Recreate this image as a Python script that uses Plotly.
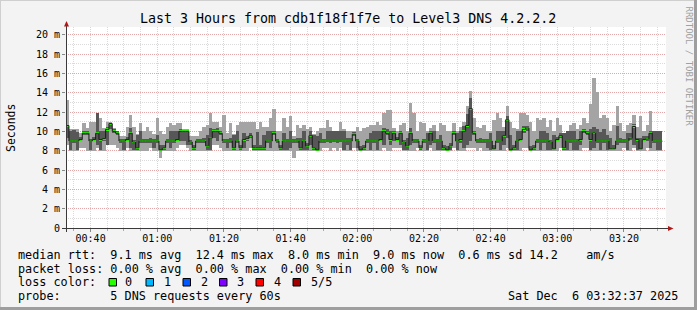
import plotly.graph_objects as go
import pandas as pd

# ---------------- data (ms), one value per 1-minute step ----------------
median_ms = [
    10.6, 9.0, 9.0, 9.0, 9.15, 9.8, 9.8, 9.0, 9.15, 9.8,
    9.15, 9.25, 10.2, 10.8, 10.0, 9.8, 9.0, 9.0, 9.15, 9.8,
    8.9, 8.3, 9.0, 9.0, 9.0, 9.0, 9.0, 9.0, 8.1, 8.3,
    9.0, 9.0, 9.0, 9.15, 10.0, 10.0, 10.0, 8.9, 8.3, 9.0,
    9.0, 9.0, 8.5, 9.3, 10.0, 10.0, 9.8, 9.0, 9.0, 9.0,
    8.3, 9.0, 8.3, 9.15, 9.25, 9.55, 8.3, 8.3, 8.3, 8.3,
    9.0, 9.0, 9.8, 9.0, 8.3, 9.0, 9.0, 9.0, 9.0, 9.0,
    8.3, 9.0, 8.5, 9.55, 8.3, 8.1, 9.0, 9.0, 9.0, 9.0,
    9.0, 9.0, 9.0, 9.0, 9.0, 9.0, 9.7, 9.0, 8.1, 8.3,
    9.0, 9.0, 9.0, 9.0, 9.15, 10.0, 9.8, 9.15, 9.8, 9.15,
    9.8, 8.9, 8.5, 9.8, 9.0, 9.0, 8.3, 9.0, 9.0, 9.8,
    9.0, 9.0, 9.0, 8.3, 8.1, 8.5, 9.8, 9.0, 9.15, 10.0,
    10.6, 12.35, 9.8, 9.0, 9.0, 9.0, 9.0, 9.0, 8.2, 9.0,
    9.0, 9.55, 11.2, 8.1, 8.3, 9.0, 9.15, 10.2, 10.35, 8.1,
    8.3, 9.0, 9.0, 9.0, 9.0, 8.9, 8.2, 9.15, 9.55, 8.3,
    9.0, 9.0, 9.0, 9.0, 9.15, 10.0, 9.8, 9.15, 9.85, 9.0,
    9.0, 9.0, 9.0, 8.2, 8.2, 9.0, 9.0, 9.0, 9.0, 9.3,
    10.5, 9.15, 8.2, 9.15, 9.2, 9.8, 9.0, 9.0, 9.0,
]
max_ms = [
    13.2, 10.2, 10.2, 10.2, 9.8, 10.9, 10.35, 11.0, 11.0, 11.9,
    11.4, 10.35, 11.0, 11.0, 10.35, 10.0, 9.5, 9.5, 10.5, 11.7,
    10.5, 9.7, 10.9, 10.0, 10.5, 10.0, 9.7, 11.4, 10.0, 9.7,
    10.5, 10.9, 10.7, 10.9, 10.9, 10.2, 10.2, 9.5, 9.5, 9.5,
    10.0, 10.5, 10.7, 11.9, 11.0, 11.0, 10.5, 11.7, 9.8, 10.9,
    9.7, 10.7, 11.0, 11.0, 11.0, 11.0, 11.0, 10.2, 11.0, 10.5,
    10.5, 11.4, 12.3, 10.0, 10.0, 11.4, 10.5, 11.6, 9.5, 10.7,
    10.35, 10.7, 10.2, 10.5, 9.7, 10.0, 10.35, 10.35, 11.2, 10.5,
    10.0, 10.0, 11.0, 10.2, 10.0, 10.0, 10.0, 10.5, 10.0, 10.35,
    10.5, 10.7, 10.7, 11.0, 10.7, 11.9, 12.25, 12.25, 10.35, 10.0,
    10.7, 10.9, 10.0, 12.9, 11.9, 10.0, 11.0, 10.9, 10.0, 10.35,
    10.7, 10.0, 10.9, 10.7, 10.0, 10.0, 10.9, 10.0, 10.5, 11.0,
    12.6, 14.2, 11.4, 10.5, 10.35, 10.7, 10.0, 10.0, 11.2, 11.9,
    11.4, 10.5, 12.6, 11.0, 10.35, 10.2, 11.9, 11.9, 11.7, 11.0,
    10.0, 11.4, 11.2, 11.4, 10.5, 11.2, 10.0, 11.4, 10.7, 9.8,
    10.0, 10.7, 10.9, 10.2, 10.7, 11.4, 10.9, 12.8, 15.5, 14.1,
    11.4, 11.7, 11.4, 10.0, 10.7, 12.6, 10.9, 10.0, 10.7, 10.9,
    11.7, 10.5, 11.6, 10.0, 10.7, 12.1, 10.0, 10.0, 10.0,
]
upper_ms = [
    10.6, 10.0, 10.1, 9.9, 9.4, 10.0, 10.0, 9.2, 9.4, 11.9,
    10.0, 10.0, 10.5, 10.9, 10.2, 10.0, 9.2, 9.2, 9.4, 10.3,
    9.1, 9.6, 10.0, 9.2, 9.2, 9.3, 9.2, 9.6, 8.6, 8.6,
    9.2, 10.0, 10.0, 10.0, 10.2, 10.1, 10.1, 9.1, 8.6, 9.2,
    9.2, 9.3, 9.6, 10.3, 10.2, 10.3, 10.0, 9.2, 9.2, 9.3,
    9.6, 10.0, 8.6, 9.8, 9.5, 9.8, 8.6, 9.9, 8.6, 9.6,
    10.0, 10.0, 10.0, 9.2, 8.6, 9.8, 9.2, 10.0, 9.2, 9.3,
    9.3, 10.0, 8.8, 10.0, 9.6, 9.5, 9.8, 9.2, 10.0, 10.0,
    10.0, 10.0, 10.0, 10.0, 9.3, 9.3, 9.9, 9.2, 8.5, 8.6,
    9.2, 9.8, 10.0, 10.0, 10.0, 10.3, 10.2, 10.0, 10.0, 9.4,
    10.0, 9.1, 9.3, 10.3, 9.2, 9.2, 8.6, 9.2, 9.8, 10.0,
    10.0, 9.2, 9.6, 8.6, 8.5, 8.8, 10.0, 9.8, 10.0, 10.6,
    11.8, 13.5, 10.0, 9.2, 9.3, 9.2, 9.2, 9.8, 8.6, 10.0,
    10.0, 10.0, 11.6, 9.6, 8.6, 10.0, 10.0, 10.6, 10.6, 8.5,
    8.6, 9.2, 10.0, 10.0, 9.8, 9.1, 9.6, 9.4, 9.8, 9.8,
    10.0, 10.0, 10.0, 9.2, 10.0, 10.2, 10.0, 10.2, 10.5, 10.2,
    9.9, 10.2, 9.6, 9.3, 8.6, 10.6, 9.3, 9.2, 9.8, 9.8,
    10.8, 9.3, 9.3, 9.5, 9.5, 10.0, 10.0, 10.0, 10.0,
]
lower_ms = [
    9.3, 8.1, 8.8, 8.1, 9.0, 9.6, 9.6, 8.1, 9.0, 8.6,
    8.1, 9.0, 8.6, 10.2, 9.8, 9.6, 8.8, 8.1, 9.0, 8.3,
    8.1, 8.1, 8.8, 8.8, 8.8, 8.8, 8.3, 8.8, 8.0, 8.1,
    8.8, 8.3, 8.8, 9.0, 9.0, 9.0, 8.6, 8.6, 8.1, 8.8,
    8.8, 8.8, 8.1, 8.1, 9.3, 9.0, 9.6, 8.8, 8.3, 8.8,
    8.1, 8.8, 8.1, 8.3, 9.0, 9.3, 8.1, 8.1, 8.1, 8.1,
    8.8, 8.3, 9.6, 8.8, 8.1, 8.1, 8.1, 8.3, 8.8, 8.8,
    8.1, 8.1, 8.1, 8.6, 8.1, 8.0, 8.8, 8.8, 9.0, 8.8,
    9.0, 8.8, 9.0, 8.1, 8.6, 8.1, 9.5, 8.3, 8.0, 8.1,
    8.8, 8.1, 8.8, 8.1, 9.0, 8.6, 9.6, 8.6, 9.0, 9.0,
    8.6, 8.1, 8.1, 8.6, 8.8, 8.8, 8.1, 8.8, 8.1, 8.6,
    8.8, 8.1, 8.1, 8.1, 8.0, 8.1, 9.6, 8.1, 8.8, 8.3,
    8.6, 9.0, 9.6, 8.8, 8.8, 8.8, 8.3, 8.1, 8.1, 8.8,
    8.1, 8.6, 9.3, 8.0, 8.1, 8.1, 9.0, 9.8, 10.0, 8.0,
    8.1, 8.8, 8.1, 8.8, 8.1, 8.1, 8.1, 9.0, 9.3, 8.1,
    8.1, 8.8, 8.1, 8.1, 8.6, 9.8, 9.6, 8.1, 8.3, 8.8,
    8.1, 8.8, 8.1, 8.1, 8.1, 8.6, 8.8, 8.8, 8.1, 9.1,
    8.6, 8.1, 8.1, 9.0, 9.0, 8.3, 8.8, 8.1, 8.1,
]
min_ms = [
    8.6, 8.0, 8.0, 8.0, 8.3, 8.3, 8.0, 8.0, 8.0, 8.3,
    8.0, 8.0, 8.6, 8.6, 8.6, 8.3, 8.0, 8.0, 8.3, 8.0,
    8.0, 8.0, 8.0, 8.0, 8.0, 8.3, 8.0, 8.0, 7.2, 8.0,
    8.0, 8.0, 8.0, 8.3, 8.6, 8.6, 8.3, 8.0, 8.0, 8.0,
    8.0, 8.0, 8.0, 8.0, 8.6, 8.6, 8.3, 8.0, 8.0, 8.0,
    8.0, 8.0, 8.0, 8.0, 8.0, 8.3, 8.0, 8.0, 8.0, 8.0,
    8.0, 8.0, 8.0, 8.0, 8.0, 8.0, 8.0, 8.0, 7.2, 8.0,
    8.0, 8.0, 8.0, 8.0, 8.0, 8.0, 8.0, 8.3, 8.3, 8.0,
    8.3, 8.0, 8.3, 8.0, 8.0, 8.0, 8.3, 8.0, 8.0, 8.0,
    8.0, 8.0, 8.0, 8.0, 8.0, 8.3, 8.0, 8.0, 8.3, 8.3,
    8.3, 8.0, 8.0, 8.0, 8.0, 8.3, 8.0, 8.0, 8.0, 8.3,
    8.0, 8.0, 8.0, 8.0, 8.0, 8.0, 8.3, 8.0, 8.0, 8.0,
    8.3, 8.3, 8.3, 8.0, 8.3, 8.0, 8.0, 8.0, 8.0, 8.0,
    8.0, 8.0, 8.3, 8.0, 8.0, 8.0, 8.0, 8.3, 8.3, 8.0,
    8.0, 8.0, 8.0, 8.0, 8.0, 8.0, 8.0, 8.0, 8.3, 8.0,
    8.0, 8.0, 8.0, 8.0, 8.0, 8.3, 8.3, 8.0, 8.0, 8.0,
    8.0, 8.0, 8.0, 8.0, 8.0, 8.0, 8.0, 8.3, 8.0, 8.0,
    8.3, 8.0, 8.0, 8.0, 8.3, 8.0, 8.0, 8.0, 8.0,
]

y_tick_values = [0, 2, 4, 6, 8, 10, 12, 14, 16, 18, 20]
y_tick_labels = ["0", "2 m", "4 m", "6 m", "8 m", "10 m", "12 m", "14 m", "16 m", "18 m", "20 m"]

title_text = "Last 3 Hours from cdb1f18f1f7e to Level3 DNS 4.2.2.2"
legend_rows = [
    "median rtt:  9.1 ms avg  12.4 ms max  8.0 ms min  9.0 ms now  0.6 ms sd 14.2    am/s",
    "packet loss: 0.00 % avg  0.00 % max  0.00 % min  0.00 % now",
    "loss color:",
    "probe:       5 DNS requests every 60s",
]
loss_labels = ["0", "1", "2", "3", "4", "5/5"]
loss_colors = ["#26ff00", "#00b8ff", "#0059ff", "#7e00ff", "#ff0000", "#a00000"]
stamp_text = "Sat Dec  6 03:32:37 2025"

range_start = pd.Timestamp("2025-12-06 00:32:37")
range_end = pd.Timestamp("2025-12-06 03:32:37")
first_step = pd.Timestamp("2025-12-06 00:32:30")

# ---------------- geometry helpers (pixel -> paper) ----------------
W, H = 697, 310
L, R, T, B = 66, 666, 27, 228


def PX(x):
    return (x - L) / (R - L)


def PY(y):
    return (B - y) / (B - T)


n = len(median_ms)
step = pd.Timedelta(minutes=1)
starts = [first_step + i * step for i in range(n)]
centers = [s + step / 2 for s in starts]

lo = [min(a, b) for a, b in zip(min_ms, lower_ms)]
lw = [min(a, b) for a, b in zip(lower_ms, median_ms)]
up = [max(a, b) for a, b in zip(upper_ms, median_ms)]
hi = [max(a, b) for a, b in zip(max_ms, up)]

fig = go.Figure()
fig.add_trace(go.Bar(x=centers, base=lo, y=[h - l for h, l in zip(hi, lo)], width=60000,
                     marker=dict(color="#a4a4a4", line=dict(width=0)), hoverinfo="skip", showlegend=False))
fig.add_trace(go.Bar(x=centers, base=lw, y=[h - l for h, l in zip(up, lw)], width=60000,
                     marker=dict(color="#575757", line=dict(width=0)), hoverinfo="skip", showlegend=False))
fig.add_trace(go.Scatter(x=starts + [starts[-1] + step], y=median_ms + [median_ms[-1]], mode="lines",
                         line=dict(color="#1a1a1a", width=1, shape="hv"), hoverinfo="skip", showlegend=False))
fig.add_trace(go.Bar(x=centers, base=[m - 0.11 for m in median_ms], y=[0.22] * n, width=60000,
                     marker=dict(color="#26ff00", line=dict(width=0)), hoverinfo="skip", showlegend=False))

mono = "DejaVu Sans Mono"
fig.update_layout(
    width=W, height=H,
    margin=dict(l=L, r=W - R, t=T, b=H - B),
    paper_bgcolor="#f3f3f3", plot_bgcolor="#ffffff",
    barmode="overlay", bargap=0,
    showlegend=False,
    font=dict(family=mono, size=10, color="#000000"),
)
fig.update_xaxes(
    type="date", range=[range_start, range_end],
    tickformat="%H:%M", dtick=20 * 60 * 1000, tick0="2025-12-06 00:00:00",
    showgrid=True, gridcolor="rgba(255,0,0,0.24)", griddash="1px,1px", gridwidth=1,
    ticks="outside", ticklen=3, tickcolor="#888888", ticklabelstandoff=-2,
    minor=dict(dtick=5 * 60 * 1000, tick0="2025-12-06 00:00:00", showgrid=True,
               gridcolor="rgba(140,140,140,0.32)", griddash="1px,1px", gridwidth=1,
               ticks="outside", ticklen=2, tickcolor="#aaaaaa"),
    showline=False, zeroline=False, fixedrange=True,
    tickfont=dict(family=mono, size=10),
)
fig.update_yaxes(
    range=[0, 20.8], tickvals=y_tick_values, ticktext=y_tick_labels,
    showgrid=True, gridcolor="rgba(255,0,0,0.24)", griddash="1px,1px", gridwidth=1,
    ticks="outside", ticklen=3, tickcolor="#888888",
    minor=dict(dtick=1, tick0=0, showgrid=True, gridcolor="rgba(140,140,140,0.32)",
               griddash="1px,1px", gridwidth=1),
    showline=False, zeroline=False, fixedrange=True,
    tickfont=dict(family=mono, size=10),
)

shapes = []
# 3D frame
shapes.append(dict(type="line", xref="paper", yref="paper", x0=PX(0), x1=PX(W), y0=PY(0.5), y1=PY(0.5),
                   line=dict(color="#cfcfcf", width=1)))
shapes.append(dict(type="line", xref="paper", yref="paper", x0=PX(0.5), x1=PX(0.5), y0=PY(0), y1=PY(H),
                   line=dict(color="#cfcfcf", width=1)))
shapes.append(dict(type="line", xref="paper", yref="paper", x0=PX(0), x1=PX(W), y0=PY(H - 1.5), y1=PY(H - 1.5),
                   line=dict(color="#9e9e9e", width=3)))
shapes.append(dict(type="line", xref="paper", yref="paper", x0=PX(W - 1.5), x1=PX(W - 1.5), y0=PY(0), y1=PY(H),
                   line=dict(color="#9e9e9e", width=3)))
# axes with arrows
shapes.append(dict(type="line", xref="paper", yref="paper", x0=PX(62), x1=PX(669), y0=PY(228.5), y1=PY(228.5),
                   line=dict(color="#3a3a3a", width=1)))
shapes.append(dict(type="line", xref="paper", yref="paper", x0=PX(66.5), x1=PX(66.5), y0=PY(232), y1=PY(25),
                   line=dict(color="#3a3a3a", width=1)))
shapes.append(dict(type="path", xref="paper", yref="paper",
                   path=f"M {PX(668)} {PY(226)} L {PX(673.5)} {PY(228.5)} L {PX(668)} {PY(231)} Z",
                   fillcolor="#b01818", line=dict(width=0)))
shapes.append(dict(type="path", xref="paper", yref="paper",
                   path=f"M {PX(64)} {PY(26.5)} L {PX(66.5)} {PY(21)} L {PX(69)} {PY(26.5)} Z",
                   fillcolor="#b01818", line=dict(width=0)))
# loss colour boxes
box_x = [109, 146, 183, 219.5, 256, 293]
for bx, c in zip(box_x, loss_colors):
    shapes.append(dict(type="rect", xref="paper", yref="paper",
                       x0=PX(bx), x1=PX(bx + 7.5), y0=PY(278.5), y1=PY(286),
                       fillcolor=c, line=dict(color="#000000", width=1)))
fig.update_layout(shapes=shapes)

NB = "\u00a0"
ann = []
ann.append(dict(text=title_text.replace(" ", NB), x=PX(348), y=PY(19), xref="paper", yref="paper",
                xanchor="center", yanchor="middle", showarrow=False,
                font=dict(family=mono, size=13.3, color="#000000")))
ann.append(dict(text="Seconds", x=PX(11), y=PY(128), xref="paper", yref="paper", textangle=-90,
                xanchor="center", yanchor="middle", showarrow=False,
                font=dict(family=mono, size=11.5, color="#000000")))
ann.append(dict(text="RRDTOOL / TOBI OETIKER".replace(" ", NB), x=PX(688.5), y=PY(66), xref="paper", yref="paper",
                textangle=90, xanchor="center", yanchor="middle", showarrow=False,
                font=dict(family=mono, size=9, color="#a0a0a0")))
row_y = [254.5, 268.5, 282.3, 296.2]
for txt, yy in zip(legend_rows, row_y):
    ann.append(dict(text=txt.replace(" ", NB), x=PX(16), y=PY(yy), xref="paper", yref="paper",
                    xanchor="left", yanchor="middle", showarrow=False,
                    font=dict(family=mono, size=11.8, color="#000000")))
label_x = [123, 161.5, 198.5, 235, 272, 308.5]
for lx, t in zip(label_x, loss_labels):
    ann.append(dict(text=t, x=PX(lx), y=PY(row_y[2]), xref="paper", yref="paper",
                    xanchor="left", yanchor="middle", showarrow=False,
                    font=dict(family=mono, size=11.8, color="#000000")))
ann.append(dict(text=stamp_text.replace(" ", NB), x=PX(680), y=PY(row_y[3]), xref="paper", yref="paper",
                xanchor="right", yanchor="middle", showarrow=False,
                font=dict(family=mono, size=11.8, color="#000000")))
fig.update_layout(annotations=ann)

fig.write_html("out.html", config={"displayModeBar": False})
